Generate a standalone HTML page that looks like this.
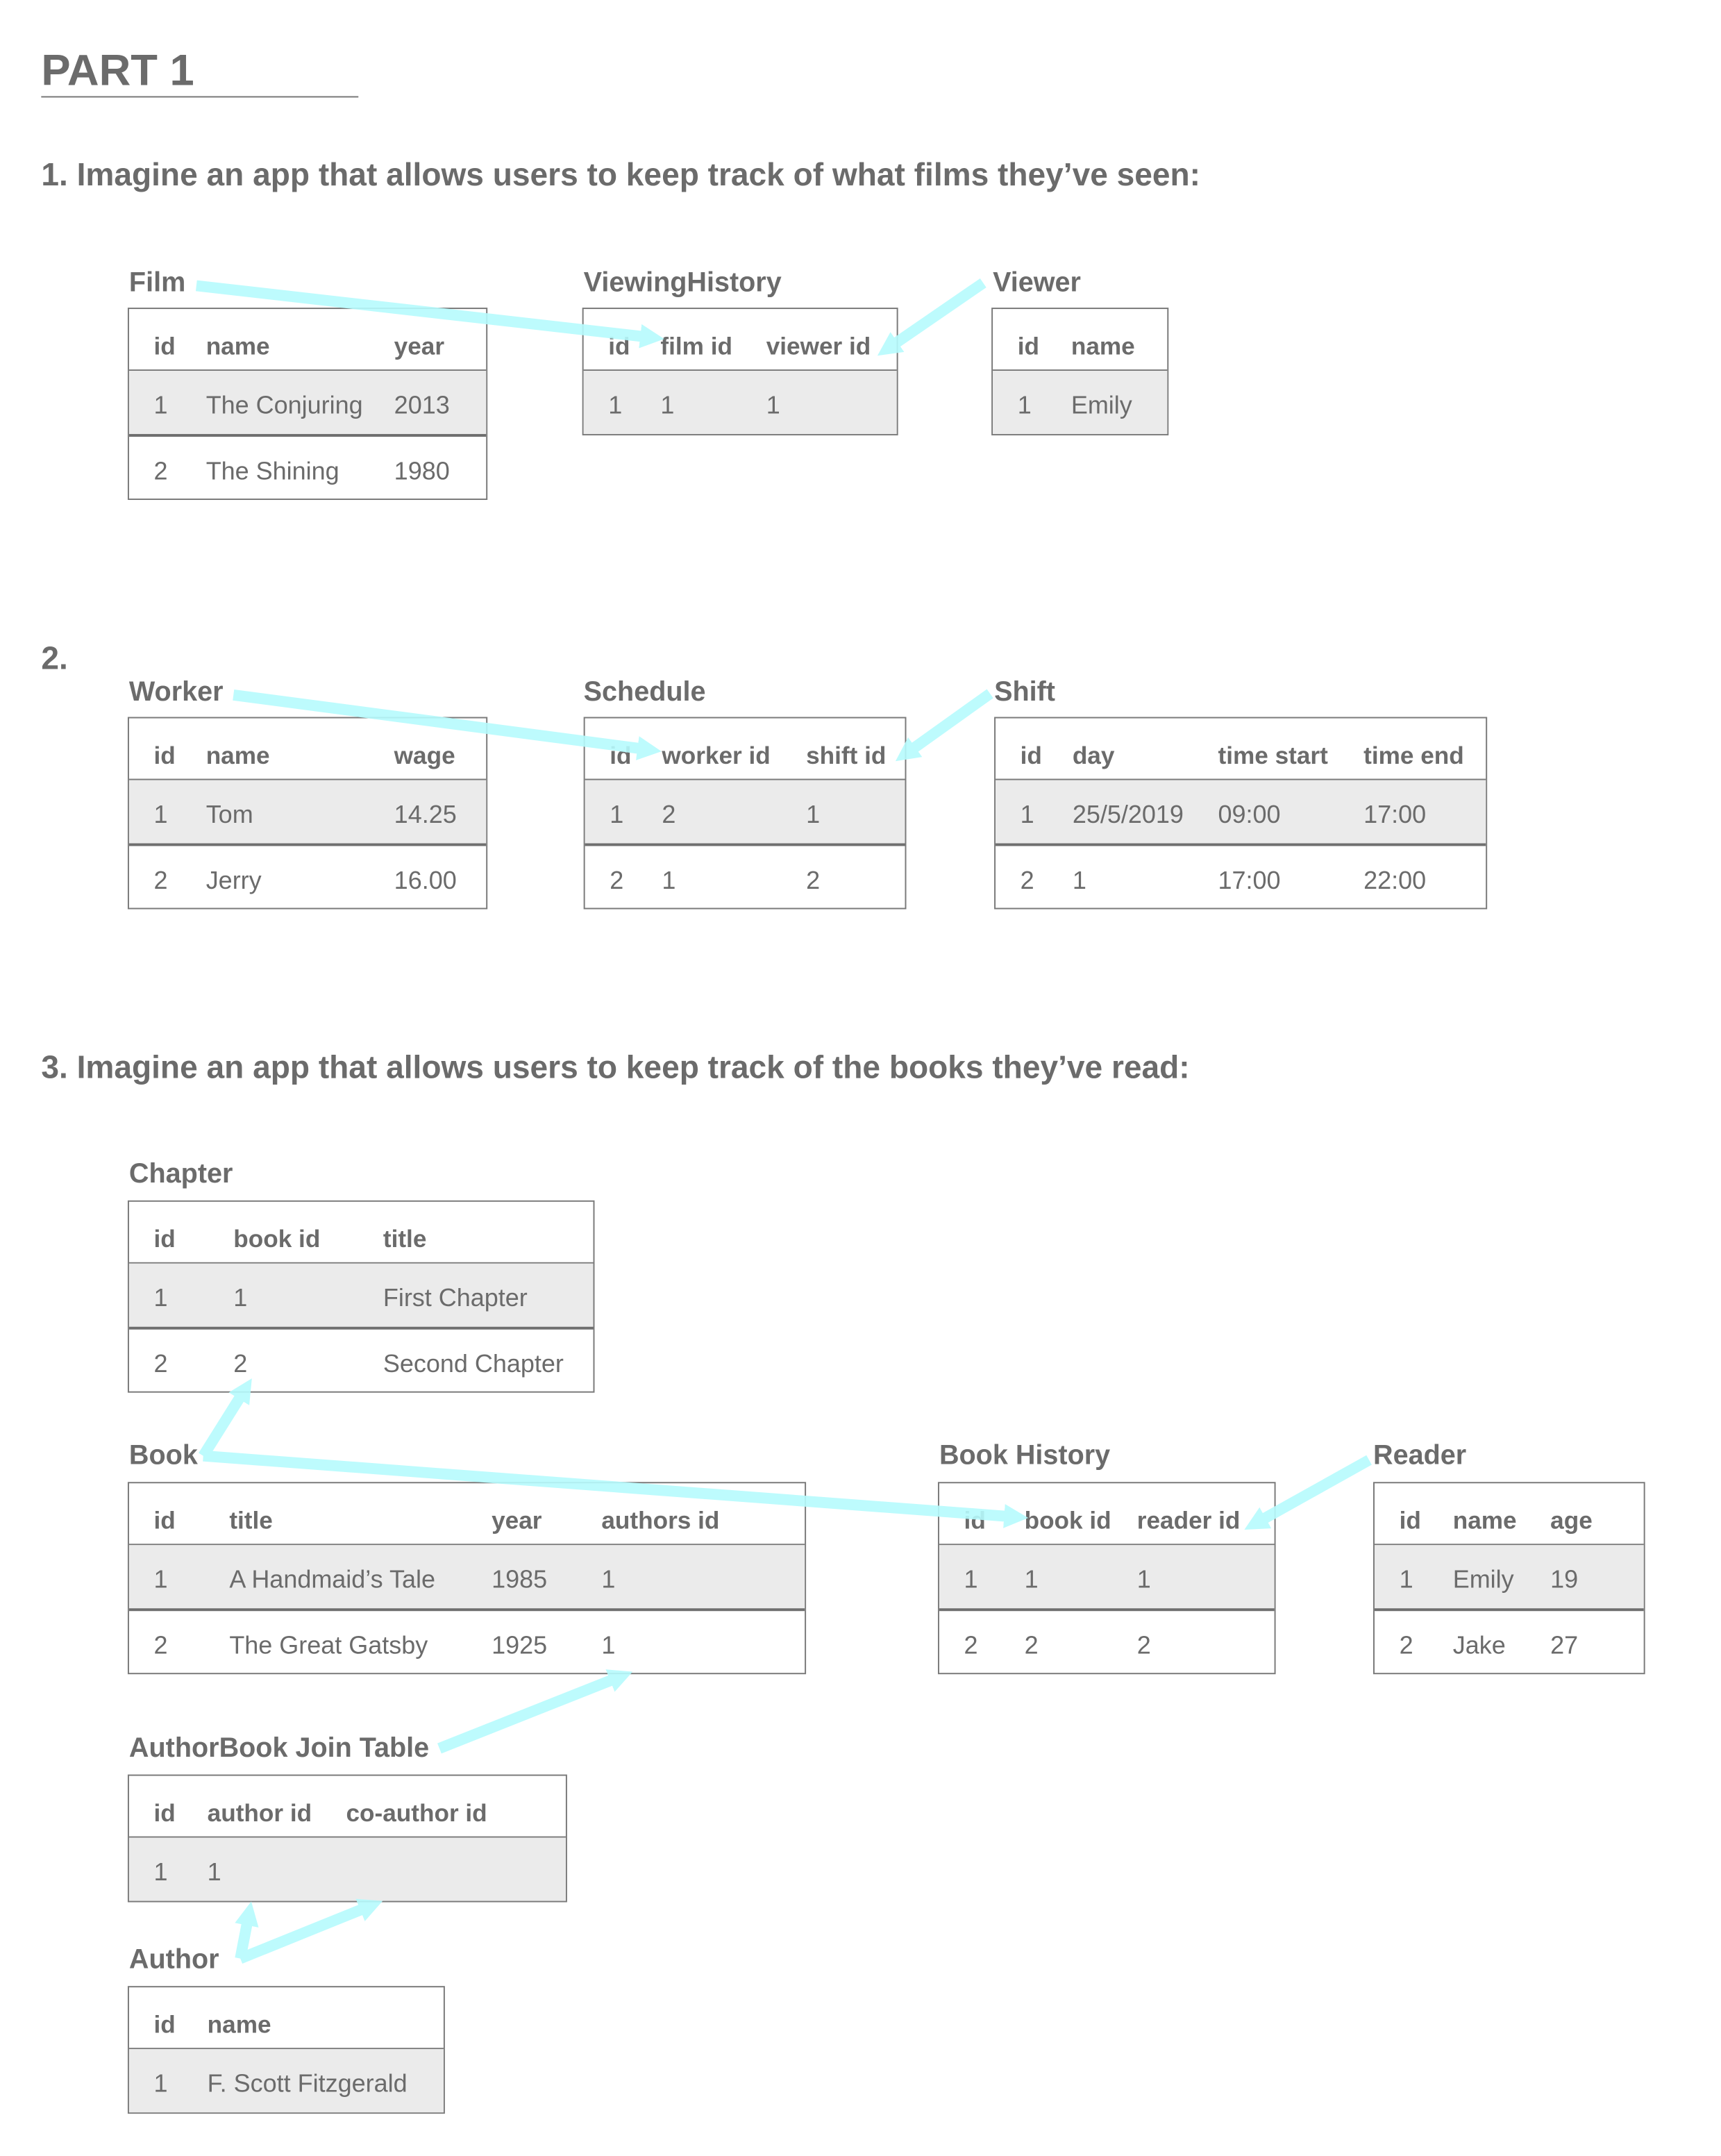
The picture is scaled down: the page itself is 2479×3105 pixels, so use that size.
<!DOCTYPE html>
<html><head><meta charset="utf-8"><style>
html,body{margin:0;padding:0;background:#fff;}
body{width:2479px;height:3103px;overflow:hidden;position:relative;}
#s{position:absolute;left:0;top:0;width:1260px;height:1570px;transform:scale(1.978);transform-origin:0 0;font-family:"Liberation Sans",Arial,sans-serif;color:#6b6b6b;}
.a{position:absolute;white-space:nowrap;}
.h{font-weight:bold;font-size:20px;}
.q{font-weight:bold;font-size:23.3px;}
.t{position:absolute;border:1px solid #7a7a7a;box-sizing:border-box;background:#fff;}
.r{position:relative;height:46px;font-size:18.2px;}
.r span{position:absolute;top:0;line-height:50px;}
.hd{font-weight:bold;border-bottom:1px solid #7a7a7a;height:44px;font-size:17.8px;}
.hd span{line-height:54px;}
.g{background:#ebebeb;border-bottom:2px solid #6f6f6f;}
.g.last{border-bottom:none;}
</style></head><body><div id="s">
<div class="a" style="left:30px;top:33px;font-size:32px;font-weight:bold;">PART 1</div>
<div class="a" style="left:30px;top:70px;width:231px;height:1px;background:#777;"></div>
<div class="a q" style="left:30px;top:114px;">1. Imagine an app that allows users to keep track of what films they’ve seen:</div>

<div class="a h" style="left:94px;top:195px;">Film</div>
<div class="t" style="left:93px;top:224px;width:262px;height:140px;">
<div class="r hd"><span style="left:18px">id</span><span style="left:56px">name</span><span style="left:193px">year</span></div>
<div class="r g"><span style="left:18px">1</span><span style="left:56px">The Conjuring</span><span style="left:193px">2013</span></div>
<div class="r"><span style="left:18px">2</span><span style="left:56px">The Shining</span><span style="left:193px">1980</span></div></div>

<div class="a h" style="left:425px;top:195px;">ViewingHistory</div>
<div class="t" style="left:424px;top:224px;width:230px;height:93px;">
<div class="r hd"><span style="left:18px">id</span><span style="left:56px">film id</span><span style="left:133px">viewer id</span></div>
<div class="r g last"><span style="left:18px">1</span><span style="left:56px">1</span><span style="left:133px">1</span></div></div>

<div class="a h" style="left:723px;top:195px;">Viewer</div>
<div class="t" style="left:722px;top:224px;width:129px;height:93px;">
<div class="r hd"><span style="left:18px">id</span><span style="left:57px">name</span></div>
<div class="r g last"><span style="left:18px">1</span><span style="left:57px">Emily</span></div></div>

<div class="a q" style="left:30px;top:466px;">2.</div>
<div class="a h" style="left:94px;top:493px;">Worker</div>
<div class="t" style="left:93px;top:522px;width:262px;height:140px;">
<div class="r hd"><span style="left:18px">id</span><span style="left:56px">name</span><span style="left:193px">wage</span></div>
<div class="r g"><span style="left:18px">1</span><span style="left:56px">Tom</span><span style="left:193px">14.25</span></div>
<div class="r"><span style="left:18px">2</span><span style="left:56px">Jerry</span><span style="left:193px">16.00</span></div></div>

<div class="a h" style="left:425px;top:493px;">Schedule</div>
<div class="t" style="left:425px;top:522px;width:235px;height:140px;">
<div class="r hd"><span style="left:18px">id</span><span style="left:56px">worker id</span><span style="left:161px">shift id</span></div>
<div class="r g"><span style="left:18px">1</span><span style="left:56px">2</span><span style="left:161px">1</span></div>
<div class="r"><span style="left:18px">2</span><span style="left:56px">1</span><span style="left:161px">2</span></div></div>

<div class="a h" style="left:724px;top:493px;">Shift</div>
<div class="t" style="left:724px;top:522px;width:359px;height:140px;">
<div class="r hd"><span style="left:18px">id</span><span style="left:56px">day</span><span style="left:162px">time start</span><span style="left:268px">time end</span></div>
<div class="r g"><span style="left:18px">1</span><span style="left:56px">25/5/2019</span><span style="left:162px">09:00</span><span style="left:268px">17:00</span></div>
<div class="r"><span style="left:18px">2</span><span style="left:56px">1</span><span style="left:162px">17:00</span><span style="left:268px">22:00</span></div></div>

<div class="a q" style="left:30px;top:764px;">3. Imagine an app that allows users to keep track of the books they’ve read:</div>

<div class="a h" style="left:94px;top:844px;">Chapter</div>
<div class="t" style="left:93px;top:874px;width:340px;height:140px;">
<div class="r hd"><span style="left:18px">id</span><span style="left:76px">book id</span><span style="left:185px">title</span></div>
<div class="r g"><span style="left:18px">1</span><span style="left:76px">1</span><span style="left:185px">First Chapter</span></div>
<div class="r"><span style="left:18px">2</span><span style="left:76px">2</span><span style="left:185px">Second Chapter</span></div></div>

<div class="a h" style="left:94px;top:1049px;">Book</div>
<div class="t" style="left:93px;top:1079px;width:494px;height:140px;">
<div class="r hd"><span style="left:18px">id</span><span style="left:73px">title</span><span style="left:264px">year</span><span style="left:344px">authors id</span></div>
<div class="r g"><span style="left:18px">1</span><span style="left:73px">A Handmaid’s Tale</span><span style="left:264px">1985</span><span style="left:344px">1</span></div>
<div class="r"><span style="left:18px">2</span><span style="left:73px">The Great Gatsby</span><span style="left:264px">1925</span><span style="left:344px">1</span></div></div>

<div class="a h" style="left:684px;top:1049px;">Book History</div>
<div class="t" style="left:683px;top:1079px;width:246px;height:140px;">
<div class="r hd"><span style="left:18px">id</span><span style="left:62px">book id</span><span style="left:144px">reader id</span></div>
<div class="r g"><span style="left:18px">1</span><span style="left:62px">1</span><span style="left:144px">1</span></div>
<div class="r"><span style="left:18px">2</span><span style="left:62px">2</span><span style="left:144px">2</span></div></div>

<div class="a h" style="left:1000px;top:1049px;">Reader</div>
<div class="t" style="left:1000px;top:1079px;width:198px;height:140px;">
<div class="r hd"><span style="left:18px">id</span><span style="left:57px">name</span><span style="left:128px">age</span></div>
<div class="r g"><span style="left:18px">1</span><span style="left:57px">Emily</span><span style="left:128px">19</span></div>
<div class="r"><span style="left:18px">2</span><span style="left:57px">Jake</span><span style="left:128px">27</span></div></div>

<div class="a h" style="left:94px;top:1262px;">AuthorBook Join Table</div>
<div class="t" style="left:93px;top:1292px;width:320px;height:93px;">
<div class="r hd"><span style="left:18px">id</span><span style="left:57px">author id</span><span style="left:158px">co-author id</span></div>
<div class="r g last"><span style="left:18px">1</span><span style="left:57px">1</span></div></div>

<div class="a h" style="left:94px;top:1416px;">Author</div>
<div class="t" style="left:93px;top:1446px;width:231px;height:93px;">
<div class="r hd"><span style="left:18px">id</span><span style="left:57px">name</span></div>
<div class="r g last"><span style="left:18px">1</span><span style="left:57px">F. Scott Fitzgerald</span></div></div>

<svg class="a" style="left:0;top:0" width="1260" height="1570" viewBox="0 0 1260 1570">
<defs><marker id="m" viewBox="0 0 10 10" refX="1" refY="5" markerWidth="2.2" markerHeight="4.6" orient="auto" markerUnits="strokeWidth"><path d="M0,0 L10,5 L0,10 Z" fill="#b6fbfd"/></marker></defs>
<g stroke="#b6fbfd" stroke-width="8" fill="none" opacity="0.9" marker-end="url(#m)">
<path d="M143,208 L468,245"/>
<path d="M716,206 L652,250"/>
<path d="M170,506 L466,545"/>
<path d="M721,505 L665,545"/>
<path d="M148,1060 L175,1017"/>
<path d="M148,1060 L733,1104"/>
<path d="M997,1063 L920,1106"/>
<path d="M320,1273 L446,1223"/>
<path d="M175,1426 L180,1400"/>
<path d="M175,1426 L264,1390"/>
</g></svg>
</div></body></html>
